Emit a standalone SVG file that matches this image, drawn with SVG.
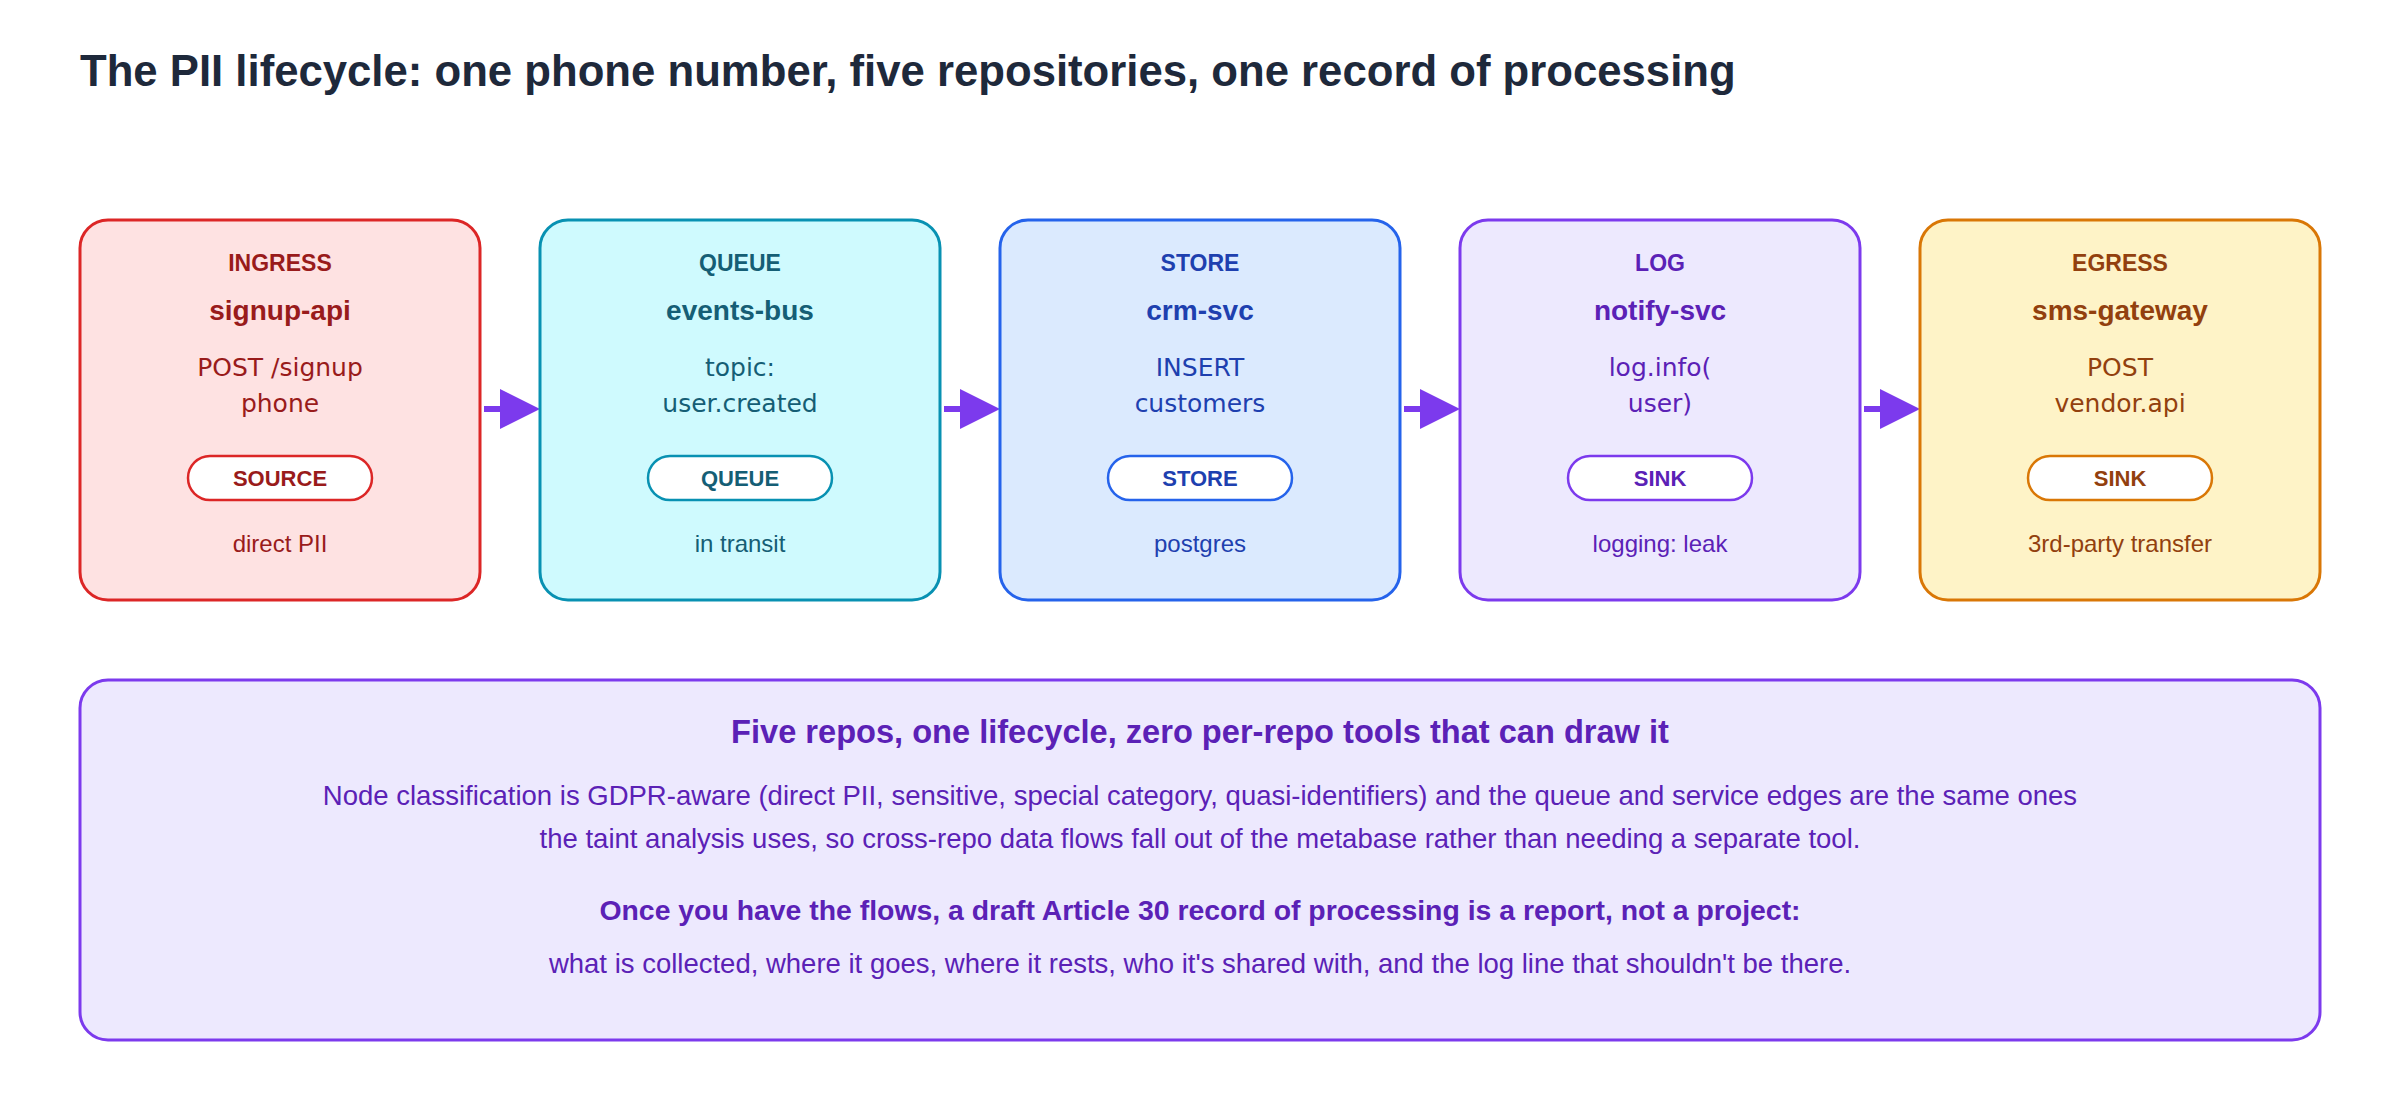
<svg xmlns="http://www.w3.org/2000/svg" width="2400" height="1120" viewBox="0 0 2400 1120">
<style>
text{font-family:"Liberation Sans",Arial,sans-serif;text-anchor:middle}
.t{font-size:23px;font-weight:bold}
.n{font-size:28px;font-weight:bold}
.d{font-family:"DejaVu Sans",sans-serif;font-size:25px}
.p{font-size:22px;font-weight:bold}
.b{font-size:24px}
.box{stroke-width:3}
.pill{fill:#fff;stroke-width:2.5}
.s{font-size:27.5px}
</style>
<rect width="2400" height="1120" fill="#fff"/>
<text x="80" y="86" style="text-anchor:start;font-size:43.7px;font-weight:bold;fill:#1e293b">The PII lifecycle: one phone number, five repositories, one record of processing</text>
<g id="connectors" stroke="#7c3aed" stroke-width="6" fill="#7c3aed">
<line x1="484" y1="409" x2="504" y2="409"/><path d="M500,389L540,409L500,429z" stroke="none"/>
<line x1="944" y1="409" x2="964" y2="409"/><path d="M960,389L1000,409L960,429z" stroke="none"/>
<line x1="1404" y1="409" x2="1424" y2="409"/><path d="M1420,389L1460,409L1420,429z" stroke="none"/>
<line x1="1864" y1="409" x2="1884" y2="409"/><path d="M1880,389L1920,409L1880,429z" stroke="none"/>
</g>
<g id="n1" fill="#991b1b"><rect class="box" x="80" y="220" width="400" height="380" rx="28" fill="#fee2e2" stroke="#dc2626"/>
<text class="t" x="280" y="271">INGRESS</text><text class="n" x="280" y="320">signup-api</text><text class="d" x="280" y="376">POST /signup</text><text class="d" x="280" y="412">phone</text>
<rect class="pill" x="188" y="456" width="184" height="44" rx="22" stroke="#dc2626"/><text class="p" x="280" y="486">SOURCE</text><text class="b" x="280" y="552">direct PII</text></g>
<g id="n2" fill="#155e75"><rect class="box" x="540" y="220" width="400" height="380" rx="28" fill="#cffafe" stroke="#0891b2"/>
<text class="t" x="740" y="271">QUEUE</text><text class="n" x="740" y="320">events-bus</text><text class="d" x="740" y="376">topic:</text><text class="d" x="740" y="412">user.created</text>
<rect class="pill" x="648" y="456" width="184" height="44" rx="22" stroke="#0891b2"/><text class="p" x="740" y="486">QUEUE</text><text class="b" x="740" y="552">in transit</text></g>
<g id="n3" fill="#1e40af"><rect class="box" x="1000" y="220" width="400" height="380" rx="28" fill="#dbeafe" stroke="#2563eb"/>
<text class="t" x="1200" y="271">STORE</text><text class="n" x="1200" y="320">crm-svc</text><text class="d" x="1200" y="376">INSERT</text><text class="d" x="1200" y="412">customers</text>
<rect class="pill" x="1108" y="456" width="184" height="44" rx="22" stroke="#2563eb"/><text class="p" x="1200" y="486">STORE</text><text class="b" x="1200" y="552">postgres</text></g>
<g id="n4" fill="#5b21b6"><rect class="box" x="1460" y="220" width="400" height="380" rx="28" fill="#ede9fe" stroke="#7c3aed"/>
<text class="t" x="1660" y="271">LOG</text><text class="n" x="1660" y="320">notify-svc</text><text class="d" x="1660" y="376">log.info(</text><text class="d" x="1660" y="412">user)</text>
<rect class="pill" x="1568" y="456" width="184" height="44" rx="22" stroke="#7c3aed"/><text class="p" x="1660" y="486">SINK</text><text class="b" x="1660" y="552">logging: leak</text></g>
<g id="n5" fill="#92400e"><rect class="box" x="1920" y="220" width="400" height="380" rx="28" fill="#fef3c7" stroke="#d97706"/>
<text class="t" x="2120" y="271">EGRESS</text><text class="n" x="2120" y="320">sms-gateway</text><text class="d" x="2120" y="376">POST</text><text class="d" x="2120" y="412">vendor.api</text>
<rect class="pill" x="2028" y="456" width="184" height="44" rx="22" stroke="#d97706"/><text class="p" x="2120" y="486">SINK</text><text class="b" x="2120" y="552">3rd-party transfer</text></g>
<g id="summary" fill="#5b21b6"><rect class="box" x="80" y="680" width="2240" height="360" rx="28" fill="#ede9fe" stroke="#7c3aed"/>
<text x="1200" y="743" style="font-size:32.6px;font-weight:bold">Five repos, one lifecycle, zero per-repo tools that can draw it</text>
<text class="s" x="1200" y="805">Node classification is GDPR-aware (direct PII, sensitive, special category, quasi-identifiers) and the queue and service edges are the same ones</text>
<text class="s" x="1200" y="848">the taint analysis uses, so cross-repo data flows fall out of the metabase rather than needing a separate tool.</text>
<text x="1200" y="920" style="font-size:28.4px;font-weight:bold">Once you have the flows, a draft Article 30 record of processing is a report, not a project:</text>
<text class="s" x="1200" y="973">what is collected, where it goes, where it rests, who it's shared with, and the log line that shouldn't be there.</text></g>
</svg>
